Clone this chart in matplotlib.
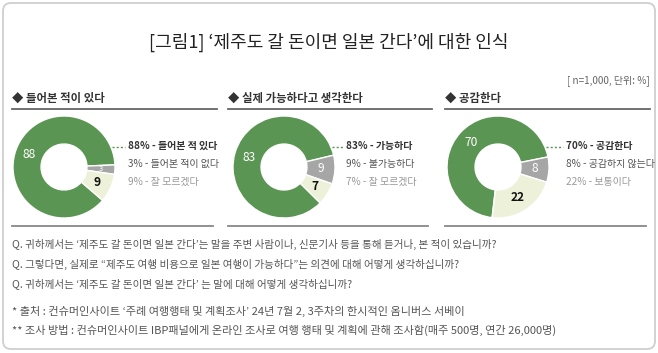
import numpy as np
import matplotlib
matplotlib.use("Agg")
import matplotlib.pyplot as plt
from matplotlib.patches import FancyBboxPatch

plt.rcParams['font.family'] = ['Noto Sans CJK KR', 'DejaVu Sans']

# --- data ---
title = "[그림1] ‘제주도 갈 돈이면 일본 간다’에 대한 인식"
note = "[ n=1,000, 단위: %]"
heads = ["들어본 적이 있다", "실제 가능하다고 생각한다", "공감한다"]
heard = [88, 3, 9]
possible = [83, 9, 7]
agree = [70, 8, 22]
heard_labels = ["들어본 적 있다", "들어본 적이 없다", "잘 모르겠다"]
possible_labels = ["가능하다", "불가능하다", "잘 모르겠다"]
agree_labels = ["공감한다", "공감하지 않는다", "보통이다"]
questions = [
    "Q. 귀하께서는 ‘제주도 갈 돈이면 일본 간다’는 말을 주변 사람이나, 신문기사 등을 통해 듣거나, 본 적이 있습니까?",
    "Q. 그렇다면, 실제로 “제주도 여행 비용으로 일본 여행이 가능하다”는 의견에 대해 어떻게 생각하십니까?",
    "Q. 귀하께서는 ‘제주도 갈 돈이면 일본 간다’ 는 말에 대해 어떻게 생각하십니까?",
]
footnotes = [
    "* 출처 : 컨슈머인사이트 ‘주례 여행행태 및 계획조사’ 24년 7월 2, 3주차의 한시적인 옴니버스 서베이",
    "** 조사 방법 : 컨슈머인사이트 IBP패널에게 온라인 조사로 여행 행태 및 계획에 관해 조사함(매주 500명, 연간 26,000명)",
]

GREEN, GRAY, LIGHT = "#5b9553", "#a6a6a6", "#eef1d9"
W, H = 658, 353

fig = plt.figure(figsize=(W / 100, H / 100), dpi=100)
bg = fig.add_axes([0, 0, 1, 1])
bg.set_xlim(0, W); bg.set_ylim(H, 0); bg.axis("off")

bg.add_patch(FancyBboxPatch((3, 3), W - 6, H - 7, boxstyle="round,pad=0,rounding_size=8",
                            fc="white", ec="#cfcfcf", lw=1.3))

bg.text(329, 42, title, ha="center", va="center", fontsize=13, color="#222222")
bg.text(650, 81, note, ha="right", va="center", fontsize=7.2, color="#666666")

panels = [(heard, heard_labels), (possible, possible_labels), (agree, agree_labels)]
x0s = [12, 228, 445]
x1s = [217, 432, 650]
cxs = [64, 284, 498]
lxs = [128, 346, 566]
cy, r = 167, 51

for i, (vals, labs) in enumerate(panels):
    x0, x1, cx, lx = x0s[i], x1s[i], cxs[i], lxs[i]
    bg.text(x0, 98, "◆ " + heads[i], ha="left", va="center", fontsize=8.2,
            fontweight="bold", color="#333333")
    bg.plot([x0, x1], [109, 109], color="#666666", lw=1.3)
    bg.plot([x0, x1 - 4], [226, 226], color="#888888", lw=1.3)

    ax = fig.add_axes([(cx - r) / W, (H - cy - r) / H, 2 * r / W, 2 * r / H])
    tot = sum(vals)
    # gray slice centred a little below horizontal
    start = -3 + 180 * vals[1] / tot + 360 * vals[0] / tot
    wedges, _ = ax.pie(vals, colors=[GREEN, GRAY, LIGHT], startangle=start,
                       counterclock=False, radius=1,
                       wedgeprops=dict(width=0.55, edgecolor="white", linewidth=1))
    ax.set_xlim(-1, 1); ax.set_ylim(-1, 1); ax.set_aspect("equal")
    for j, w in enumerate(wedges):
        ang = np.deg2rad((w.theta1 + w.theta2) / 2)
        rr = 0.72
        col = "#111111" if j == 2 else "white"
        fs = 8.6 if vals[j] > 4 else 5.5
        ax.text(rr * np.cos(ang), rr * np.sin(ang), str(vals[j]), ha="center", va="center",
                fontsize=fs, fontweight="bold" if j == 2 else "medium", color=col)

    colors = ["#333333", "#555555", "#999999"]
    for j in range(3):
        bg.text(lx, 146 + 18 * j, f"{vals[j]}% - {labs[j]}", ha="left", va="center",
                fontsize=7.2, color=colors[j], fontweight="bold" if j == 0 else "normal")
    bg.plot([cx + r - 3, lx - 3], [147, 147], color=GREEN, lw=1, ls=(0, (1.5, 1.5)))

for k, q in enumerate(questions):
    bg.text(12, 244 + 20 * k, q, ha="left", va="center", fontsize=7.6, color="#555555")
for k, f in enumerate(footnotes):
    bg.text(12, 311 + 19 * k, f, ha="left", va="center", fontsize=8.0, color="#555555")

fig.savefig("out.png", dpi=100)
